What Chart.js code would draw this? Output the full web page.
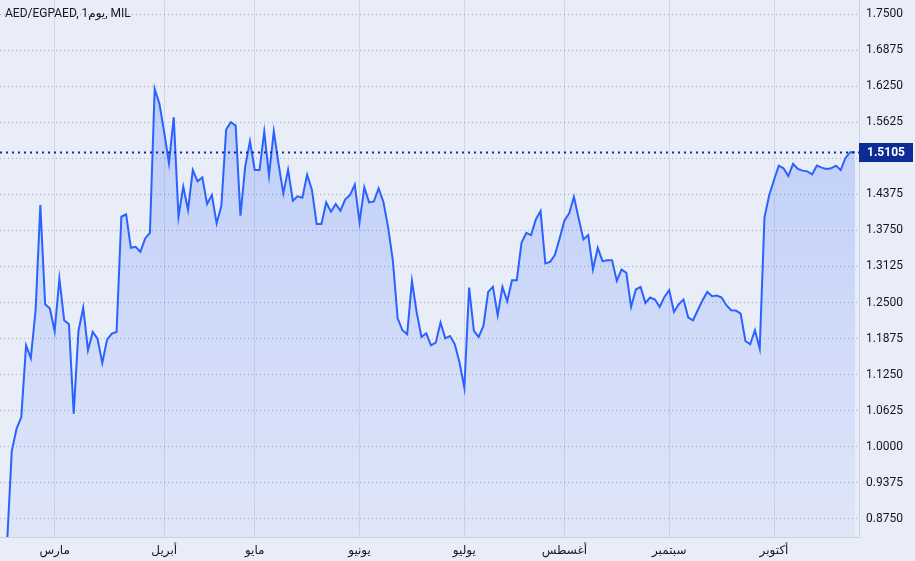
<!DOCTYPE html>
<html>
<head>
<meta charset="utf-8">
<script src="https://cdn.jsdelivr.net/npm/chart.js@4/dist/chart.umd.min.js"></script>
<style>
  html, body { margin: 0; padding: 0; background: #e9edf8; }
  #wrap { width: 915px; height: 561px; position: relative; }
</style>
</head>
<body>
<div id="wrap"><canvas id="rate-chart"></canvas></div>
<script>
// AED/EGPAED daily closes (one value per trading day)
const rates = [
    0.83, 0.9925, 1.0313, 1.0515, 1.1759, 1.1539, 1.2367, 1.419, 1.2471, 1.2396,
    1.2002, 1.2917, 1.2193, 1.2124, 1.0573, 1.2008, 1.2413, 1.1672, 1.1991, 1.1875,
    1.1453, 1.1858, 1.1962, 1.1991, 1.3987, 1.4028, 1.3449, 1.3466, 1.338, 1.3611,
    1.3709, 1.6204, 1.5943, 1.545, 1.4913, 1.5712, 1.3987, 1.4508, 1.4109, 1.4797,
    1.4601, 1.467, 1.4207, 1.4363, 1.3872, 1.4178, 1.5498, 1.5625, 1.5567, 1.4005,
    1.4855, 1.5295, 1.4797, 1.4797, 1.5463, 1.4699, 1.5469, 1.4902, 1.4392, 1.4803,
    1.4265, 1.434, 1.4317, 1.4717, 1.4456, 1.386, 1.386, 1.4236, 1.4074, 1.4207,
    1.4091, 1.4288, 1.4363, 1.4543, 1.3889, 1.4497, 1.4236, 1.4253, 1.4479, 1.4248,
    1.3802, 1.3223, 1.2228, 1.202, 1.195, 1.2876, 1.2326, 1.1904, 1.1968, 1.1759,
    1.1806, 1.2153, 1.1881, 1.1921, 1.1777, 1.1458, 1.1024, 1.276, 1.2008, 1.1904,
    1.2095, 1.2685, 1.2772, 1.228, 1.2772, 1.2523, 1.2888, 1.2888, 1.3536, 1.371,
    1.3669, 1.3941, 1.4086, 1.3177, 1.3206, 1.3322, 1.3611, 1.3918, 1.4045, 1.4334,
    1.3958, 1.3594, 1.3669, 1.3073, 1.3449, 1.3218, 1.3235, 1.3235, 1.2876, 1.3073,
    1.3015, 1.2425, 1.2726, 1.2772, 1.2494, 1.2587, 1.2552, 1.2425, 1.2598, 1.2714,
    1.2338, 1.2471, 1.2552, 1.224, 1.2193, 1.2367, 1.2541, 1.2685, 1.261, 1.2622,
    1.2587, 1.2454, 1.2367, 1.2361, 1.2309, 1.1834, 1.1777, 1.202, 1.1701, 1.3976,
    1.4363, 1.4624, 1.4873, 1.4826, 1.4693, 1.4902, 1.4815, 1.4786, 1.4774, 1.4722,
    1.4873, 1.4838, 1.4815, 1.4826, 1.4873, 1.4797, 1.5006, 1.5105, 1.5105
];

// first trading day of each month (index into rates)
const monthStarts = [10, 33, 52, 74, 96, 117, 139, 161];
const monthLabels = ['مارس', 'أبريل', 'مايو', 'يونيو', 'يوليو', 'أغسطس', 'سبتمبر', 'أكتوبر'];

const priceTicks = [0.875, 0.9375, 1.0, 1.0625, 1.125, 1.1875, 1.25, 1.3125,
    1.375, 1.4375, 1.5, 1.5625, 1.625, 1.6875, 1.75];

const lastPrice = 1.5105;
const chartTitle = 'AED/EGPAED, 1يوم, MIL';

const BG = '#e9edf8';
const LINE = '#2962ff';
const NAVY = '#0d2b94';
const TEXT = '#131722';

Chart.defaults.font.family = 'Roboto, "DejaVu Sans", sans-serif';
Chart.defaults.font.size = 12;
Chart.defaults.color = TEXT;

// axes hug the canvas edges, no extra room for half labels
const noPadding = (scale) => {
    scale.paddingTop = 0;
    scale.paddingBottom = 0;
    scale.paddingLeft = 0;
    scale.paddingRight = 0;
};

const overlay = {
    id: 'overlay',
    beforeDraw(chart) {
        const { ctx, width, height } = chart;
        ctx.save();
        ctx.fillStyle = BG;
        ctx.fillRect(0, 0, width, height);
        ctx.restore();
    },
    afterDatasetsDraw(chart) {
        // dotted last-price line
        const { ctx, chartArea } = chart;
        const y = Math.round(chart.scales.y.getPixelForValue(lastPrice)) + 0.5;
        ctx.save();
        ctx.strokeStyle = NAVY;
        ctx.lineWidth = 2;
        ctx.setLineDash([2, 4]);
        ctx.beginPath();
        ctx.moveTo(chartArea.left, y);
        ctx.lineTo(chartArea.right, y);
        ctx.stroke();
        ctx.restore();
    },
    afterDraw(chart) {
        const { ctx, chartArea } = chart;
        const y = chart.scales.y.getPixelForValue(lastPrice);

        // price tag on the axis
        ctx.save();
        ctx.fillStyle = NAVY;
        ctx.fillRect(chartArea.right, Math.round(y) - 9, 54, 19);
        ctx.fillStyle = '#ffffff';
        ctx.font = 'bold 12px Roboto, "DejaVu Sans", sans-serif';
        ctx.textBaseline = 'middle';
        ctx.textAlign = 'left';
        ctx.fillText(lastPrice.toFixed(4), chartArea.right + 8, Math.round(y) + 1);

        // legend text top-left
        ctx.fillStyle = TEXT;
        ctx.font = '12px Roboto, "DejaVu Sans", sans-serif';
        ctx.direction = 'ltr';
        ctx.fillText(chartTitle, 5, 14);
        ctx.restore();
    }
};

new Chart(document.getElementById('rate-chart'), {
    type: 'line',
    data: {
        datasets: [{
            data: rates.map((v, i) => ({ x: i, y: v })),
            borderColor: LINE,
            borderWidth: 2,
            pointRadius: 0,
            tension: 0,
            fill: 'start',
            backgroundColor: (ctx) => {
                const area = ctx.chart.chartArea;
                if (!area) return 'rgba(41, 98, 255, 0.15)';
                const g = ctx.chart.ctx.createLinearGradient(0, area.top, 0, area.bottom);
                g.addColorStop(0, 'rgba(41, 98, 255, 0.26)');
                g.addColorStop(1, 'rgba(41, 98, 255, 0.05)');
                return g;
            },
        }]
    },
    options: {
        responsive: true,
        maintainAspectRatio: false,
        animation: false,
        layout: { padding: 0 },
        plugins: {
            legend: { display: false },
            tooltip: { enabled: false }
        },
        scales: {
            x: {
                type: 'linear',
                min: -1.47,
                max: 178.84,
                afterBuildTicks: (scale) => {
                    scale.ticks = monthStarts.map(v => ({ value: v }));
                },
                afterFit: (scale) => { scale.height = 24; noPadding(scale); },
                grid: { color: 'rgba(150, 160, 190, 0.28)', drawTicks: false },
                border: { display: true, color: '#cdd2df' },
                ticks: {
                    autoSkip: false,
                    maxRotation: 0,
                    padding: 7,
                    callback: (v, i) => monthLabels[i]
                }
            },
            y: {
                position: 'right',
                min: 0.84375,
                max: 1.7743,
                afterBuildTicks: (scale) => {
                    scale.ticks = priceTicks.map(v => ({ value: v }));
                },
                afterFit: (scale) => { scale.width = 56; noPadding(scale); },
                grid: { color: 'rgba(110, 116, 135, 0.55)', drawTicks: false },
                border: { display: true, color: '#cdd2df', dash: [1, 3] },
                ticks: {
                    padding: 7,
                    callback: (v) => Number(v).toFixed(4)
                }
            }
        }
    },
    plugins: [overlay]
});
</script>
</body>
</html>
